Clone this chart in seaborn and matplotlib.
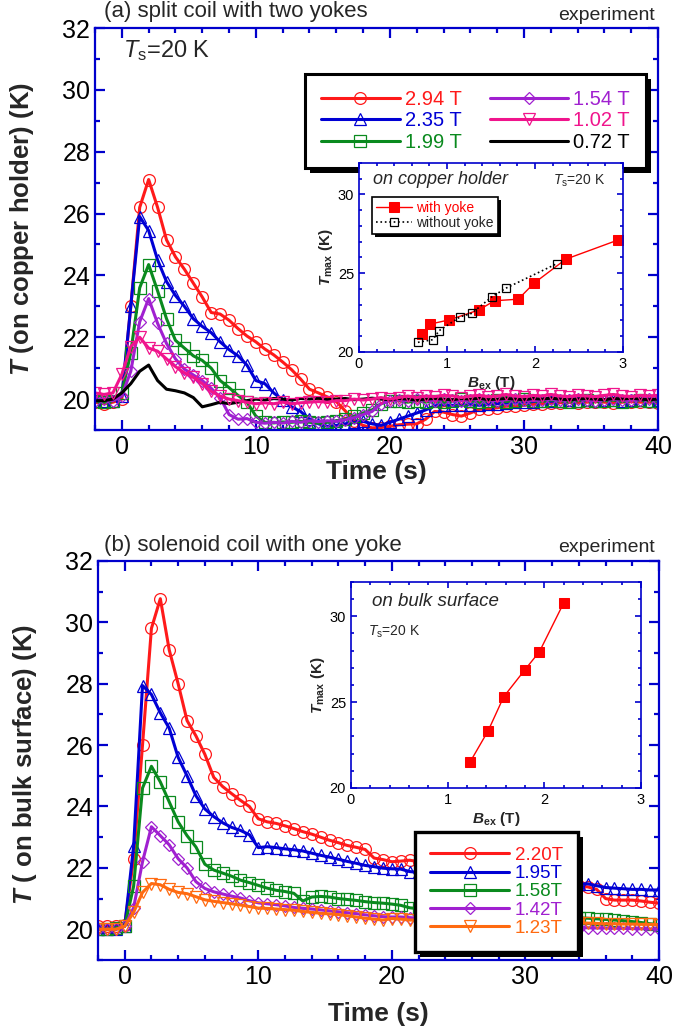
import numpy as np
import matplotlib
matplotlib.use("Agg")
import matplotlib.pyplot as plt
from matplotlib.ticker import MultipleLocator
from matplotlib.patches import Rectangle
from matplotlib.transforms import IdentityTransform
import seaborn as sns

sns.set_theme(style="ticks")
plt.rcParams.update({
    "font.family": ["Liberation Sans", "DejaVu Sans"],
    "mathtext.fontset": "custom",
    "mathtext.rm": "Liberation Sans",
    "mathtext.it": "Liberation Sans:italic",
    "mathtext.bf": "Liberation Sans:bold",
    "mathtext.bfit": "Liberation Sans:italic:bold",
    "axes.facecolor": "white",
    "figure.facecolor": "white",
    "legend.framealpha": 1.0,
    "legend.facecolor": "white",
})

# ---------------- data ----------------
time_s = np.round(np.linspace(-2, 40, 64), 3)

# (a) split coil, temperature on copper holder
a_labels = ["2.94 T", "2.35 T", "1.99 T", "1.54 T", "1.02 T", "0.72 T"]
a_294 = [19.90, 19.85, 19.90, 20.00, 23.00, 26.20, 27.10, 26.20, 25.15, 24.60,
         24.20, 23.75, 23.30, 22.80, 22.75, 22.55, 22.28, 22.04, 21.85, 21.62,
         21.43, 21.20, 20.95, 20.65, 20.32, 20.20, 20.07, 19.92, 19.62, 19.30,
         19.15, 19.07, 19.08, 19.12, 19.17, 19.19, 19.20, 19.35, 19.60, 19.58,
         19.50, 19.45, 19.55, 19.67, 19.68, 19.72, 19.77, 19.78, 19.80, 19.83,
         19.85, 19.87, 19.88, 19.90, 19.88, 19.90, 19.92, 19.90, 19.88, 19.90,
         19.92, 19.90, 19.90, 19.88]
a_235 = [19.95, 19.95, 19.95, 20.10, 23.00, 25.90, 25.45, 24.50, 23.80, 23.35,
         23.00, 22.60, 22.35, 22.15, 21.85, 21.60, 21.40, 21.10, 20.60, 20.50,
         20.20, 19.97, 19.75, 19.60, 19.35, 19.20, 19.12, 19.15, 19.20, 19.25,
         19.28, 19.20, 19.15, 19.25, 19.35, 19.45, 19.55, 19.65, 19.78, 19.82,
         19.80, 19.80, 19.82, 19.80, 19.83, 19.85, 19.87, 19.90, 19.90, 19.92,
         19.95, 19.93, 19.95, 19.97, 19.95, 19.97, 19.95, 19.97, 19.98, 19.95,
         19.97, 19.98, 19.95, 19.97]
a_199 = [19.95, 19.90, 19.95, 20.20, 21.50, 23.60, 24.35, 23.50, 22.60, 21.90,
         21.65, 21.40, 21.25, 21.00, 20.60, 20.37, 20.12, 19.90, 19.45, 19.25,
         19.23, 19.26, 19.25, 19.28, 19.25, 19.22, 19.25, 19.30, 19.35, 19.45,
         19.55, 19.65, 19.85, 19.95, 19.95, 19.90, 19.95, 19.90, 19.95, 19.90,
         19.95, 20.00, 19.95, 19.90, 19.95, 19.97, 19.92, 19.95, 20.00, 19.95,
         19.93, 19.97, 19.95, 19.90, 19.95, 19.98, 19.93, 19.95, 19.97, 19.92,
         19.95, 19.98, 19.95, 19.93]
a_154 = [19.95, 20.00, 19.95, 20.10, 20.90, 22.50, 23.25, 22.45, 21.80, 21.30,
         20.97, 20.78, 20.60, 20.35, 20.05, 19.50, 19.35, 19.37, 19.25, 19.22,
         19.25, 19.22, 19.28, 19.25, 19.30, 19.27, 19.30, 19.28, 19.33, 19.40,
         19.50, 19.60, 19.85, 19.95, 19.97, 19.95, 20.00, 19.97, 19.95, 20.00,
         19.97, 19.95, 19.98, 20.00, 19.97, 19.95, 19.98, 20.00, 19.97, 19.95,
         19.98, 20.00, 19.96, 19.98, 20.00, 19.97, 19.95, 19.98, 20.00, 19.97,
         19.96, 19.98, 20.00, 19.97]
a_102 = [20.20, 20.15, 20.20, 20.80, 21.70, 22.00, 21.65, 21.55, 21.30, 21.05,
         20.85, 20.70, 20.50, 20.25, 20.10, 20.00, 19.95, 19.90, 19.85, 19.88,
         19.85, 19.90, 19.85, 19.88, 19.90, 19.92, 19.90, 19.95, 19.95, 20.00,
         19.97, 20.00, 20.05, 20.00, 20.05, 20.10, 20.05, 20.10, 20.08, 20.12,
         20.10, 20.05, 20.10, 20.12, 20.08, 20.10, 20.15, 20.10, 20.08, 20.12,
         20.10, 20.15, 20.10, 20.08, 20.12, 20.10, 20.08, 20.12, 20.15, 20.10,
         20.08, 20.12, 20.10, 20.12]
a_072 = [19.95, 19.95, 20.00, 20.20, 20.50, 20.90, 21.10, 20.60, 20.32, 20.27,
         20.20, 20.05, 19.75, 19.82, 19.90, 19.85, 19.90, 19.95, 20.00, 19.97,
         20.02, 20.00, 19.97, 20.02, 20.00, 20.03, 19.98, 20.00, 20.02, 19.98,
         20.00, 20.03, 20.00, 19.98, 20.02, 20.00, 19.97, 20.00, 20.02, 20.00,
         19.98, 20.02, 20.00, 20.03, 19.98, 20.00, 20.02, 20.00, 19.98, 20.02,
         20.00, 20.03, 20.00, 19.98, 20.00, 20.02, 20.00, 19.98, 20.02, 20.00,
         20.03, 20.00, 19.98, 20.00]

# (b) solenoid coil, temperature on bulk surface
b_labels = ["2.20T", "1.95T", "1.58T", "1.42T", "1.23T"]
b_220 = [20.10, 20.10, 20.10, 20.15, 22.30, 26.00, 29.80, 30.77, 29.10, 28.00,
         26.80, 26.30, 25.70, 24.95, 24.65, 24.42, 24.20, 24.00, 23.60, 23.50,
         23.45, 23.37, 23.28, 23.18, 23.10, 23.00, 22.90, 22.82, 22.73, 22.67,
         22.60, 22.32, 22.27, 22.20, 22.22, 22.25, 22.20, 22.15, 22.10, 22.05,
         22.00, 21.95, 21.90, 21.88, 21.85, 21.80, 21.75, 21.70, 21.65, 21.60,
         21.55, 21.52, 21.50, 21.47, 21.42, 21.38, 21.30, 21.00, 20.95, 20.95,
         20.95, 20.92, 20.88, 20.85]
b_195 = [20.00, 20.00, 20.00, 20.10, 22.70, 27.94, 27.65, 27.05, 26.55, 25.60,
         25.00, 24.35, 23.92, 23.67, 23.47, 23.32, 23.22, 23.08, 22.66, 22.69,
         22.66, 22.62, 22.59, 22.55, 22.48, 22.41, 22.35, 22.28, 22.21, 22.15,
         22.08, 22.04, 21.99, 21.97, 21.96, 21.88, 21.85, 21.83, 21.80, 21.78,
         21.75, 21.73, 21.70, 21.68, 21.65, 21.63, 21.60, 21.58, 21.56, 21.55,
         21.53, 21.52, 21.50, 21.50, 21.48, 21.48, 21.42, 21.36, 21.34, 21.32,
         21.30, 21.30, 21.28, 21.28]
b_158 = [20.00, 20.00, 20.05, 20.10, 21.40, 24.60, 25.31, 24.80, 24.15, 23.50,
         23.05, 22.68, 22.12, 21.93, 21.83, 21.73, 21.60, 21.52, 21.43, 21.34,
         21.27, 21.23, 21.17, 20.92, 21.05, 21.07, 21.05, 21.00, 20.97, 20.94,
         20.90, 20.87, 20.85, 20.82, 20.78, 20.70, 20.67, 20.65, 20.63, 20.62,
         20.60, 20.58, 20.56, 20.55, 20.52, 20.50, 20.48, 20.47, 20.45, 20.44,
         20.42, 20.40, 20.39, 20.38, 20.37, 20.36, 20.34, 20.32, 20.30, 20.28,
         20.25, 20.22, 20.18, 20.15]
b_142 = [20.00, 20.00, 20.00, 20.10, 20.70, 22.20, 23.34, 23.05, 22.75, 22.30,
         22.00, 21.55, 21.33, 21.22, 21.15, 21.08, 21.02, 20.93, 20.86, 20.83,
         20.80, 20.76, 20.71, 20.68, 20.66, 20.63, 20.60, 20.57, 20.54, 20.51,
         20.47, 20.44, 20.41, 20.40, 20.40, 20.38, 20.36, 20.34, 20.32, 20.30,
         20.28, 20.26, 20.24, 20.22, 20.20, 20.18, 20.16, 20.14, 20.12, 20.10,
         20.09, 20.08, 20.07, 20.06, 20.05, 20.05, 20.04, 20.04, 20.03, 20.03,
         20.02, 20.02, 20.01, 20.00]
b_123 = [20.00, 20.00, 20.00, 20.10, 20.55, 21.20, 21.49, 21.45, 21.30, 21.20,
         21.16, 21.06, 20.96, 20.91, 20.87, 20.83, 20.79, 20.74, 20.69, 20.68,
         20.66, 20.64, 20.62, 20.58, 20.55, 20.52, 20.50, 20.48, 20.44, 20.40,
         20.36, 20.33, 20.30, 20.35, 20.33, 20.30, 20.30, 20.29, 20.28, 20.28,
         20.27, 20.26, 20.26, 20.25, 20.24, 20.24, 20.23, 20.22, 20.22, 20.21,
         20.21, 20.20, 20.20, 20.20, 20.20, 20.20, 20.19, 20.18, 20.18, 20.17,
         20.17, 20.16, 20.16, 20.15]

# maximum temperature versus external field
a_bex_yoke = [0.72, 0.81, 1.02, 1.36, 1.54, 1.81, 1.99, 2.35, 2.94]
a_tmax_yoke = [21.14, 21.77, 22.03, 22.66, 23.25, 23.35, 24.37, 25.89, 27.10]
a_bex_noyoke = [0.67, 0.84, 0.91, 1.15, 1.28, 1.51, 1.67, 2.25]
a_tmax_noyoke = [20.61, 20.78, 21.35, 22.23, 22.45, 23.50, 24.05, 25.61]
b_bex = [1.23, 1.42, 1.58, 1.80, 1.95, 2.20]
b_tmax = [21.49, 23.34, 25.31, 26.89, 27.94, 30.77]

# ---------------- styling ----------------
SPINE = "#0000cc"
RED, BLUE, GREEN = "#ff1a1a", "#0000d4", "#0a8a1e"
PURPLE, PINK, BLACK, ORANGE = "#a020d0", "#f0148c", "#000000", "#ff6a10"

a_series = [(a_294, RED, "o"), (a_235, BLUE, "^"), (a_199, GREEN, "s"),
            (a_154, PURPLE, "D"), (a_072, BLACK, None), (a_102, PINK, "v")]
a_order = [0, 1, 2, 3, 5, 4]  # legend order by field
b_series = [(b_220, RED, "o"), (b_195, BLUE, "^"), (b_158, GREEN, "s"),
            (b_142, PURPLE, "D"), (b_123, ORANGE, "v")]

fig = plt.figure(figsize=(6.73, 10.30), dpi=100)


def style_axes(ax, xmaj, xmin, ymaj, ymin, lw, lmaj, lmin, fs):
    for s in ax.spines.values():
        s.set_color(SPINE)
        s.set_linewidth(lw)
    ax.xaxis.set_major_locator(MultipleLocator(xmaj))
    ax.xaxis.set_minor_locator(MultipleLocator(xmin))
    ax.yaxis.set_major_locator(MultipleLocator(ymaj))
    ax.yaxis.set_minor_locator(MultipleLocator(ymin))
    ax.tick_params(which="both", direction="in", top=True, right=True,
                   color=SPINE, labelcolor="black", labelsize=fs)
    ax.tick_params(which="major", length=lmaj, width=lw)
    ax.tick_params(which="minor", length=lmin, width=lw)
    ax.grid(False)


def add_shadow(ax, leg, off):
    fig.canvas.draw()
    bb = leg.get_frame().get_window_extent()
    sh = Rectangle((bb.x0 + off, bb.y0 - off), bb.width, bb.height,
                   transform=IdentityTransform(), facecolor="black",
                   edgecolor="none", zorder=leg.get_zorder() - 0.1)
    ax.add_artist(sh)
    sh.set_clip_on(False)


def style_legend(leg, lw):
    fr = leg.get_frame()
    fr.set_edgecolor("black")
    fr.set_facecolor("white")
    fr.set_alpha(1.0)
    fr.set_linewidth(lw)


def draw_series(ax, vals, color, marker, ms):
    kw = dict(x=time_s, y=vals, ax=ax, color=color, linewidth=2.2,
              estimator=None, legend=False)
    if marker is not None:
        kw.update(marker=marker, markersize=ms, markerfacecolor="none",
                  markeredgecolor=color, markeredgewidth=0.9)
    sns.lineplot(**kw)


# ---------------- panel (a) ----------------
ax1 = fig.add_axes([0.1412, 0.5825, 0.8365, 0.3903])
for vals, color, marker in a_series:
    draw_series(ax1, vals, color, marker, 8.5 if marker != "D" else 6.5)
ax1.set_xlim(-2, 40)
ax1.set_ylim(19, 32)
style_axes(ax1, 10, 2, 2, 1, 1.6, 7, 3.5, 18)
ax1.set_xlabel("Time (s)", fontsize=19, fontweight="bold")
ax1.set_ylabel(r"$\mathbfit{T}$ (on copper holder) (K)", fontsize=18.5,
               fontweight="bold")
ax1.yaxis.set_label_coords(-0.105, 0.5)
ax1.xaxis.set_label_coords(0.5, -0.074)
ax1.text(0.05, 0.945, r"$\mathit{T}_{\mathrm{s}}$=20 K", transform=ax1.transAxes,
         fontsize=17, va="center", ha="left")

lines = ax1.get_lines()
handles = [lines[i] for i in a_order]
leg1 = ax1.legend(handles, a_labels, ncol=2, loc="upper right",
                  bbox_to_anchor=(0.979, 0.886), borderaxespad=0,
                  fontsize=14.5, handlelength=3.9, handletextpad=0.25,
                  columnspacing=1.4, labelspacing=0.12, borderpad=0.8,
                  frameon=True, fancybox=False, numpoints=1)
style_legend(leg1, 2.2)
for txt, i in zip(leg1.get_texts(), a_order):
    txt.set_color(a_series[i][1])

# ---------------- panel (b) ----------------
ax2 = fig.add_axes([0.1456, 0.068, 0.8336, 0.3874])
for vals, color, marker in b_series:
    draw_series(ax2, vals, color, marker, 8.5 if marker != "D" else 6.5)
ax2.set_xlim(-2, 40)
ax2.set_ylim(19, 32)
style_axes(ax2, 10, 2, 2, 1, 1.6, 7, 3.5, 18)
ax2.set_xlabel("Time (s)", fontsize=19, fontweight="bold")
ax2.set_ylabel(r"$\mathbfit{T}$ ( on bulk surface) (K)", fontsize=18.5,
               fontweight="bold")
ax2.yaxis.set_label_coords(-0.105, 0.49)
ax2.xaxis.set_label_coords(0.5, -0.105)

leg2 = ax2.legend(ax2.get_lines(), b_labels, loc="lower right",
                  bbox_to_anchor=(0.8556, 0.02), borderaxespad=0,
                  fontsize=13.5, handlelength=4.2, handletextpad=0.3,
                  labelspacing=0.06, borderpad=0.8, frameon=True,
                  fancybox=False, numpoints=1)
style_legend(leg2, 2.4)
for txt, (_, color, _) in zip(leg2.get_texts(), b_series):
    txt.set_color(color)

# panel titles
fig.text(104 / 673, 1 - 12 / 1030, "(a) split coil with two yokes",
         fontsize=16, ha="left", va="center")
fig.text(655 / 673, 1 - 15 / 1030, "experiment", fontsize=14, ha="right",
         va="center")
fig.text(104 / 673, 1 - 545 / 1030, "(b) solenoid coil with one yoke",
         fontsize=16, ha="left", va="center")
fig.text(655 / 673, 1 - 547 / 1030, "experiment", fontsize=14, ha="right",
         va="center")

# ---------------- inset (a) ----------------
in1 = fig.add_axes([0.5334, 0.6583, 0.3923, 0.1835])
sns.lineplot(x=a_bex_yoke, y=a_tmax_yoke, ax=in1, color="#ff0000",
             linewidth=1.0, marker="s", markersize=7, markeredgecolor="#ff0000",
             markerfacecolor="#ff0000", estimator=None, label="with yoke")
sns.lineplot(x=a_bex_noyoke, y=a_tmax_noyoke, ax=in1, color="black",
             linewidth=1.2, linestyle=":", marker="s", markersize=6,
             markeredgecolor="black", markerfacecolor="none",
             markeredgewidth=0.9, estimator=None, label="without yoke")
in1.set_xlim(0, 3)
in1.set_ylim(20, 32)
style_axes(in1, 1, 0.2, 5, 1, 1.2, 4.5, 2.5, 10.5)
in1.set_xlabel(r"$\mathbfit{B}_{\mathbf{ex}}$ (T)", fontsize=11,
               fontweight="bold", labelpad=2)
in1.set_ylabel(r"$\mathbfit{T}_{\mathbf{max}}$ (K)", fontsize=11,
               fontweight="bold", labelpad=2)
in1.text(0.053, 0.91, "on copper holder", transform=in1.transAxes,
         fontsize=13, fontstyle="italic", va="center", ha="left")
in1.text(0.735, 0.905, r"$\mathit{T}_{\mathrm{s}}$=20 K",
         transform=in1.transAxes, fontsize=10, va="center", ha="left")
leg3 = in1.legend(loc="upper left", bbox_to_anchor=(0.049, 0.82),
                  borderaxespad=0, fontsize=10, handlelength=2.6,
                  handletextpad=0.3, labelspacing=0.05, borderpad=0.3,
                  frameon=True, fancybox=False, numpoints=1)
style_legend(leg3, 1.2)
leg3.get_texts()[0].set_color("#ff0000")

# ---------------- inset (b) ----------------
in2 = fig.add_axes([0.5215, 0.2350, 0.4309, 0.2000])
sns.lineplot(x=b_bex, y=b_tmax, ax=in2, color="#ff0000", linewidth=1.0,
             marker="s", markersize=7.5, markeredgecolor="#ff0000",
             markerfacecolor="#ff0000", estimator=None, legend=False)
in2.set_xlim(0, 3)
in2.set_ylim(20, 32)
style_axes(in2, 1, 0.2, 5, 1, 1.2, 4.5, 2.5, 10.5)
in2.set_xlabel(r"$\mathbfit{B}_{\mathbf{ex}}$ (T)", fontsize=11,
               fontweight="bold", labelpad=2)
in2.set_ylabel(r"$\mathbfit{T}_{\mathbf{max}}$ (K)", fontsize=11,
               fontweight="bold", labelpad=2)
in2.text(0.071, 0.904, "on bulk surface", transform=in2.transAxes,
         fontsize=13.5, fontstyle="italic", va="center", ha="left")
in2.text(0.059, 0.76, r"$\mathit{T}_{\mathrm{s}}$=20 K",
         transform=in2.transAxes, fontsize=10, va="center", ha="left")

# drop shadows behind the legend boxes
add_shadow(ax1, leg1, 5)
add_shadow(ax2, leg2, 5)
add_shadow(in1, leg3, 3)

fig.savefig("out.png", dpi=100)
